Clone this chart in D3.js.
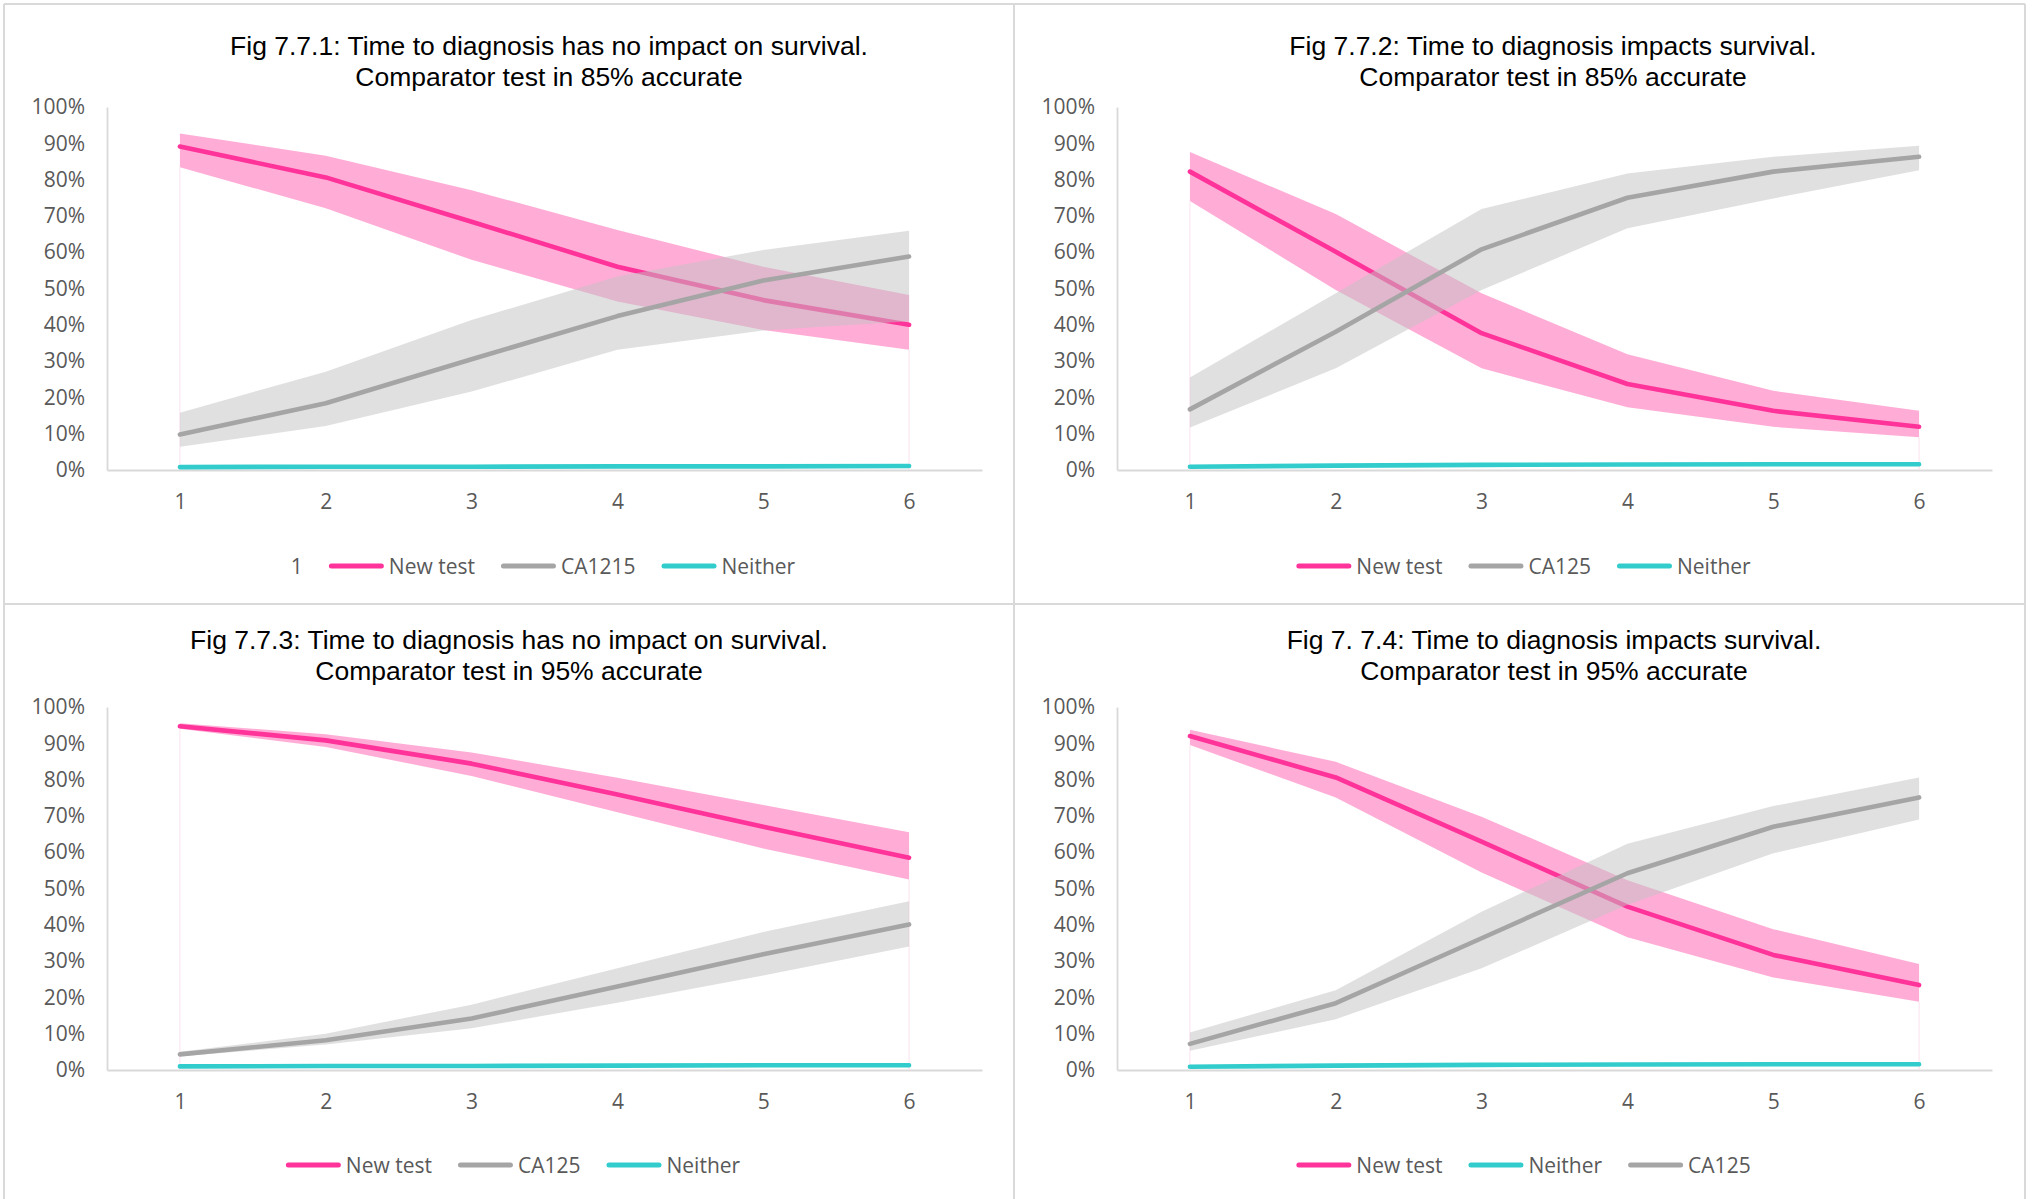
<!DOCTYPE html>
<html>
<head>
<meta charset="utf-8">
<script src="https://cdn.jsdelivr.net/npm/d3@7"></script>
<style>
  html, body { margin: 0; padding: 0; background: #ffffff; }
  svg { display: block; }
</style>
</head>
<body>
<svg id="chart" width="2033" height="1199"></svg>
<script>
// Time since start (category axis) and percentage ticks
const categories = [1, 2, 3, 4, 5, 6];
const yTicks = [0, 10, 20, 30, 40, 50, 60, 70, 80, 90, 100];

// Fig 7.7.1 — no survival impact, comparator 85% accurate
const fig1NewTest     = [89.1, 80.6, 68.4, 56.0, 46.8, 40.0];
const fig1NewTestLow  = [83.4, 72.1, 57.9, 46.4, 38.6, 33.1];
const fig1NewTestHigh = [92.7, 86.6, 77.1, 66.1, 56.0, 48.2];
const fig1CA125       = [9.8, 18.4, 30.5, 42.4, 52.2, 58.8];
const fig1CA125Low    = [6.4, 12.1, 21.6, 33.1, 38.4, 41.0];
const fig1CA125High   = [15.8, 27.1, 41.3, 53.3, 60.6, 65.9];
const fig1Neither     = [0.8, 0.9, 0.9, 1.0, 1.0, 1.1];

// Fig 7.7.2 — survival impact, comparator 85% accurate
const fig2NewTest     = [82.2, 60.1, 37.7, 23.7, 16.3, 11.9];
const fig2NewTestLow  = [74.1, 49.6, 28.0, 17.3, 11.9, 9.0];
const fig2NewTestHigh = [87.6, 70.5, 48.7, 31.9, 21.8, 16.3];
const fig2CA125       = [16.7, 38.1, 60.8, 75.0, 82.2, 86.3];
const fig2CA125Low    = [11.7, 28.0, 49.6, 66.6, 74.8, 82.6];
const fig2CA125High   = [25.5, 48.7, 71.9, 81.7, 86.3, 89.3];
const fig2Neither     = [0.9, 1.2, 1.4, 1.5, 1.6, 1.6];

// Fig 7.7.3 — no survival impact, comparator 95% accurate
const fig3NewTest     = [94.7, 90.8, 84.4, 75.9, 67.0, 58.5];
const fig3NewTestLow  = [94.0, 89.0, 81.0, 71.0, 61.0, 52.5];
const fig3NewTestHigh = [95.5, 92.5, 87.5, 80.5, 73.0, 65.5];
const fig3CA125       = [4.3, 8.2, 14.2, 23.0, 31.9, 40.1];
const fig3CA125Low    = [3.8, 7.0, 11.5, 18.5, 26.0, 34.0];
const fig3CA125High   = [5.0, 10.0, 18.0, 28.0, 38.0, 46.5];
const fig3Neither     = [1.0, 1.1, 1.1, 1.2, 1.3, 1.3];

// Fig 7.7.4 — survival impact, comparator 95% accurate
const fig4NewTest     = [92.0, 80.6, 62.9, 45.0, 31.7, 23.4];
const fig4NewTestLow  = [89.5, 75.1, 54.4, 36.6, 25.5, 18.8];
const fig4NewTestHigh = [93.7, 84.9, 69.8, 52.3, 38.8, 29.2];
const fig4CA125       = [7.2, 18.4, 36.3, 54.2, 67.0, 75.1];
const fig4CA125Low    = [5.3, 14.0, 28.0, 45.5, 59.7, 69.0];
const fig4CA125High   = [10.3, 22.0, 43.6, 62.3, 72.7, 80.6];
const fig4Neither     = [0.9, 1.2, 1.4, 1.5, 1.6, 1.6];

// Titles and legend labels
const fig1Title = ["Fig 7.7.1: Time to diagnosis has no impact on survival.", "Comparator test in 85% accurate"];
const fig2Title = ["Fig 7.7.2: Time to diagnosis impacts survival.", "Comparator test in 85% accurate"];
const fig3Title = ["Fig 7.7.3: Time to diagnosis has no impact on survival.", "Comparator test in 95% accurate"];
const fig4Title = ["Fig 7. 7.4: Time to diagnosis impacts survival.", "Comparator test in 95% accurate"];
const fig1Legend = ["1", "New test", "CA1215", "Neither"];
const fig2Legend = ["New test", "CA125", "Neither"];
const fig3Legend = ["New test", "CA125", "Neither"];
const fig4Legend = ["New test", "Neither", "CA125"];

// Styling
const PINK = "#ff3399", GREY = "#a5a5a5", TEAL = "#33cccc";
const TEXT = "#595959", FRAME = "#d9d9d9";
const LABEL_FONT = "'Open Sans', 'Noto Sans', sans-serif";
const TITLE_FONT = "'Liberation Sans', Arial, sans-serif";
const swatchColor = { "New test": PINK, "CA125": GREY, "CA1215": GREY, "Neither": TEAL, "1": null };

const panels = [
  { x0: 4,    y0: 4,   w: 1010, titleX: 545, titleY: [50.5, 81.5], title: fig1Title, legend: fig1Legend,
    s: { mid: fig1NewTest, lo: fig1NewTestLow, hi: fig1NewTestHigh, ca: fig1CA125, caLo: fig1CA125Low, caHi: fig1CA125High, nei: fig1Neither } },
  { x0: 1014, y0: 4,   w: 1011, titleX: 539, titleY: [50.5, 81.5], title: fig2Title, legend: fig2Legend,
    s: { mid: fig2NewTest, lo: fig2NewTestLow, hi: fig2NewTestHigh, ca: fig2CA125, caLo: fig2CA125Low, caHi: fig2CA125High, nei: fig2Neither } },
  { x0: 4,    y0: 604, w: 1010, titleX: 505, titleY: [45, 76], title: fig3Title, legend: fig3Legend,
    s: { mid: fig3NewTest, lo: fig3NewTestLow, hi: fig3NewTestHigh, ca: fig3CA125, caLo: fig3CA125Low, caHi: fig3CA125High, nei: fig3Neither } },
  { x0: 1014, y0: 604, w: 1011, titleX: 540, titleY: [45, 76], title: fig4Title, legend: fig4Legend,
    s: { mid: fig4NewTest, lo: fig4NewTestLow, hi: fig4NewTestHigh, ca: fig4CA125, caLo: fig4CA125Low, caHi: fig4CA125High, nei: fig4Neither } }
];

const svg = d3.select("#chart");

// Chart-area frames
const frame = svg.append("g").attr("stroke", FRAME).attr("stroke-width", 2);
frame.append("line").attr("x1", 4).attr("x2", 2025).attr("y1", 4).attr("y2", 4);
frame.append("line").attr("x1", 4).attr("x2", 2025).attr("y1", 604).attr("y2", 604);
[4, 1014, 2025].forEach(x => frame.append("line").attr("x1", x).attr("x2", x).attr("y1", 4).attr("y2", 1199));

// Plot area inside each chart area
const plotLeft = 103, plotRight = 978, plotTop = 103, plotBottom = 466;

panels.forEach(p => {
  const g = svg.append("g").attr("transform", `translate(${p.x0},${p.y0})`);

  const x = d3.scalePoint().domain(categories).range([plotLeft, plotRight]).padding(0.5);
  const y = d3.scaleLinear().domain([0, 100]).range([plotBottom, plotTop]);

  // Title
  const t = g.append("text")
    .attr("text-anchor", "middle")
    .attr("font-family", TITLE_FONT)
    .attr("font-size", 26.5)
    .attr("fill", "#000");
  p.title.forEach((line, i) => t.append("tspan").attr("x", p.titleX).attr("y", p.titleY[i]).text(line));

  // Axes
  const yAxis = g.append("g").attr("transform", `translate(${plotLeft},0)`)
    .call(d3.axisLeft(y).tickValues(yTicks).tickFormat(d => d + "%").tickSize(0).tickPadding(22));
  const xAxis = g.append("g").attr("transform", `translate(0,${plotBottom})`)
    .call(d3.axisBottom(x).tickSize(0).tickPadding(24));
  [yAxis, xAxis].forEach(a => {
    a.select(".domain").attr("stroke", FRAME).attr("stroke-width", 1.8);
    a.selectAll("text").attr("font-family", LABEL_FONT).attr("font-size", 21).attr("fill", TEXT);
  });

  const rows = categories.map((c, i) => ({
    c, mid: p.s.mid[i], lo: p.s.lo[i], hi: p.s.hi[i],
    ca: p.s.ca[i], caLo: p.s.caLo[i], caHi: p.s.caHi[i], nei: p.s.nei[i]
  }));

  const band = (loKey, hiKey) => d3.area().x(d => x(d.c)).y0(d => y(d[loKey])).y1(d => y(d[hiKey]));
  const line = key => d3.line().x(d => x(d.c)).y(d => y(d[key]));

  // New test uncertainty band
  g.append("path").datum(rows).attr("d", band("lo", "hi"))
    .attr("fill", PINK).attr("fill-opacity", 0.4);

  // faint outline of the stacked base area at the first and last category
  [rows[0], rows[rows.length - 1]].forEach(d => {
    g.append("line").attr("x1", x(d.c)).attr("x2", x(d.c))
      .attr("y1", y(0)).attr("y2", y(d.lo))
      .attr("stroke", "#fbe1ee").attr("stroke-width", 1);
  });

  // New test central line
  g.append("path").datum(rows).attr("d", line("mid"))
    .attr("fill", "none").attr("stroke", PINK).attr("stroke-width", 4.6)
    .attr("stroke-linecap", "round").attr("stroke-linejoin", "round");

  // CA125 uncertainty band (semi-transparent, drawn over the pink)
  g.append("path").datum(rows).attr("d", band("caLo", "caHi"))
    .attr("fill", "#c1c1c1").attr("fill-opacity", 0.5);

  // CA125 central line
  g.append("path").datum(rows).attr("d", line("ca"))
    .attr("fill", "none").attr("stroke", GREY).attr("stroke-width", 4.6)
    .attr("stroke-linecap", "round").attr("stroke-linejoin", "round");

  // Neither
  g.append("path").datum(rows).attr("d", line("nei"))
    .attr("fill", "none").attr("stroke", TEAL).attr("stroke-width", 4.6)
    .attr("stroke-linecap", "round").attr("stroke-linejoin", "round");

  // Legend, centred under the chart area
  const lg = g.append("g");
  let cursor = 0;
  p.legend.forEach(label => {
    const col = swatchColor[label];
    if (col) {
      lg.append("line").attr("x1", cursor + 2.5).attr("x2", cursor + 52.5)
        .attr("y1", 0).attr("y2", 0)
        .attr("stroke", col).attr("stroke-width", 5).attr("stroke-linecap", "round");
    }
    const txt = lg.append("text").attr("x", cursor + 60).attr("y", 7.5)
      .attr("font-family", LABEL_FONT).attr("font-size", 21).attr("fill", TEXT).text(label);
    cursor += 60 + txt.node().getComputedTextLength() + 26;
  });
  const legendWidth = cursor - 26;
  lg.attr("transform", `translate(${p.w / 2 + 4 - legendWidth / 2},${p.y0 === 4 ? 562 : 561})`);
});
</script>
</body>
</html>
